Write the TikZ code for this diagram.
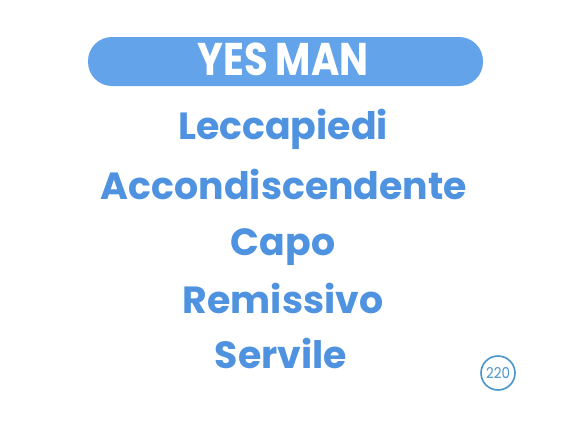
\documentclass[tikz,border=0pt]{standalone}
\usepackage{fontspec}
\setmainfont{Poppins}
\newfontfamily\popb{Poppins}[UprightFont=* Bold]
\definecolor{barblue}{RGB}{98,163,234}
\definecolor{txtblue}{RGB}{78,146,224}
\definecolor{circblue}{RGB}{72,150,205}
\begin{document}
\begin{tikzpicture}[x=1bp,y=-1bp,
  word/.style={anchor=base,text=txtblue,inner sep=0pt,font=\popb\fontsize{38}{38}\selectfont}]
\useasboundingbox (0,0) rectangle (583,432);
\fill[white] (0,0) rectangle (583,432);
\fill[barblue,rounded corners=24bp] (88,37) rectangle (483,86);
\node[anchor=base,text=white,inner sep=0pt,font=\popb\fontsize{46}{46}\selectfont] (title) at (283,75) {\scalebox{0.84}[1]{YES MAN}};
\node[word] (w1) at (283,139) {Leccapiedi};
\node[word] (w2) at (284,199) {Accondiscendente};
\node[word] (w3) at (283,255) {Capo};
\node[word] (w4) at (283,313) {Remissivo};
\node[word] (w5) at (281,368) {Servile};
\node[draw=circblue,line width=1.6bp,circle,minimum size=34bp,inner sep=0pt,text=circblue,font=\fontsize{15}{15}\selectfont] (num) at (498,373) {\scalebox{0.9}[1]{220}};
\end{tikzpicture}
\end{document}
